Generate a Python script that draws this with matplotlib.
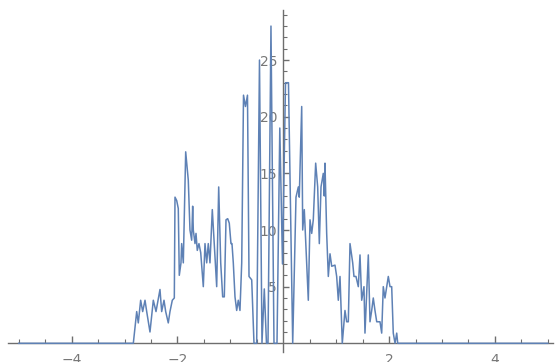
import numpy as np
import matplotlib.pyplot as plt
from matplotlib.ticker import MultipleLocator, FixedLocator

x_vals = [-5.0, -2.835, -2.771, -2.741, -2.696, -2.658, -2.614, -2.582, -2.520, -2.457,
          -2.406, -2.331, -2.299, -2.255, -2.223, -2.174, -2.142, -2.098, -2.060, -2.047,
          -2.015, -1.985, -1.966, -1.934, -1.921, -1.890, -1.845, -1.796, -1.764, -1.732,
          -1.713, -1.701, -1.669, -1.650, -1.626, -1.594, -1.561, -1.512, -1.480, -1.448,
          -1.418, -1.386, -1.342, -1.291, -1.259, -1.221, -1.183, -1.146, -1.115, -1.083,
          -1.051, -1.021, -0.989, -0.970, -0.945, -0.913, -0.881, -0.851, -0.819, -0.786,
          -0.752, -0.715, -0.677, -0.648, -0.597, -0.554, -0.503, -0.450, -0.403, -0.359,
          -0.318, -0.289, -0.233, -0.176, -0.119, -0.066, -0.015, 0.042, 0.098, 0.178,
          0.240, 0.284, 0.302, 0.348, 0.367, 0.397, 0.442, 0.473, 0.505, 0.537,
          0.567, 0.612, 0.650, 0.681, 0.713, 0.756, 0.775, 0.788, 0.820, 0.851,
          0.883, 0.915, 0.977, 1.009, 1.040, 1.072, 1.115, 1.166, 1.198, 1.229,
          1.261, 1.312, 1.336, 1.374, 1.418, 1.450, 1.482, 1.525, 1.544, 1.607,
          1.639, 1.671, 1.701, 1.733, 1.766, 1.828, 1.860, 1.890, 1.922, 1.955,
          1.985, 2.017, 2.049, 2.079, 2.112, 2.144, 2.163, 5.0]
y_vals = [0, 0, 2.8, 1.8, 3.8, 2.8, 3.8, 2.8, 1.0, 3.8,
          2.8, 4.75, 2.8, 3.8, 2.8, 1.8, 2.8, 3.8, 4.0, 12.9,
          12.6, 11.9, 6.0, 7.1, 8.8, 7.1, 16.9, 14.4, 10.0, 9.1,
          12.1, 10.0, 8.8, 9.7, 8.2, 8.8, 8.0, 5.0, 8.8, 7.1,
          8.8, 7.1, 11.8, 7.6, 5.0, 13.8, 7.1, 4.1, 4.1, 10.9,
          11.0, 10.6, 8.8, 8.8, 7.1, 4.1, 2.9, 3.8, 2.9, 7.1,
          21.9, 20.9, 21.9, 5.9, 5.6, 0, 0, 25.0, 0, 4.8,
          0, 0, 28.0, 0, 0, 19.0, 7.0, 23.0, 23.0, 0,
          12.9, 13.8, 12.9, 20.9, 10.0, 11.8, 7.1, 3.8, 10.9, 9.7,
          10.9, 15.9, 13.8, 8.8, 13.8, 15.0, 13.0, 15.9, 9.7, 5.9,
          7.9, 6.8, 6.9, 5.9, 3.8, 5.9, 0, 2.9, 1.9, 1.9,
          8.8, 7.1, 5.9, 5.9, 5.0, 7.8, 3.8, 5.0, 0.9, 7.8,
          1.9, 2.9, 4.0, 2.9, 1.9, 1.9, 0.9, 5.0, 4.0, 5.0,
          5.9, 5.0, 5.0, 0.9, 0, 0.9, 0, 0]

x_major = [-4, -2, 2, 4]
y_major = [5, 10, 15, 20, 25]

line_color = '#5e81b5'
axis_color = '#6e6e6e'
label_color = '#777777'

fig = plt.figure(figsize=(5.55, 3.62), dpi=100)
ax = fig.add_axes([0, 0, 1, 1])
ax.set_facecolor('white')

ax.plot(x_vals, y_vals, color=line_color, lw=1.1, zorder=3)

ax.set_xlim(-5.355, 5.136)
ax.set_ylim(-1.65, 30.3)

# Mathematica style axes crossing at the origin
for side in ['top', 'right']:
    ax.spines[side].set_visible(False)
ax.spines['left'].set_position(('data', 0))
ax.spines['bottom'].set_position(('data', 0))
ax.spines['left'].set_bounds(-0.8, 29.4)
ax.spines['bottom'].set_bounds(-5.2, 5.1)
for side in ['left', 'bottom']:
    ax.spines[side].set_color(axis_color)
    ax.spines[side].set_linewidth(1.0)

ax.xaxis.set_major_locator(FixedLocator(x_major))
ax.xaxis.set_minor_locator(FixedLocator([v for v in np.arange(-5, 5.01, 0.5) if v not in (-4, -2, 0, 2, 4)]))
ax.yaxis.set_major_locator(FixedLocator(y_major))
ax.yaxis.set_minor_locator(FixedLocator([v for v in range(1, 30) if v % 5 != 0]))

ax.tick_params(axis='both', which='both', direction='in', color=axis_color,
               labelcolor=label_color, labelsize=10)
ax.tick_params(axis='x', which='major', length=5, width=1.0, pad=7)
ax.tick_params(axis='x', which='minor', length=3, width=0.8)
ax.tick_params(axis='y', which='major', length=4.5, width=1.0, pad=4.5)
ax.tick_params(axis='y', which='minor', length=3, width=0.8)

ax.set_xticklabels([str(v).replace('-', '\u2212') for v in x_major])
ax.set_yticklabels([str(v) for v in y_major])

fig.savefig('out.png', dpi=100)
